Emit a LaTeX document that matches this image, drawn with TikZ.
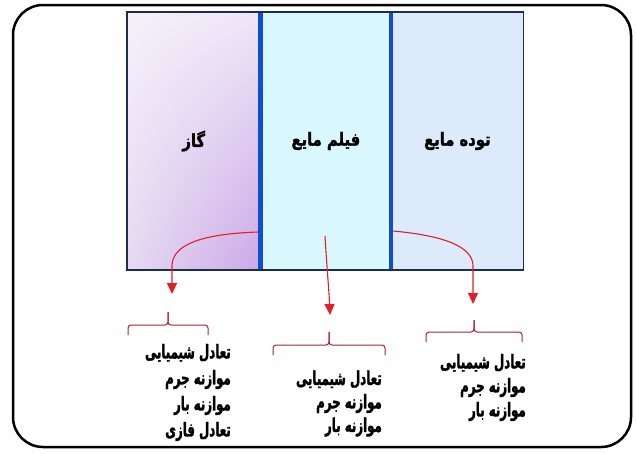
\documentclass[tikz,border=0pt]{standalone}
\usepackage{fontspec}
\usepackage{tikz}
\usetikzlibrary{arrows.meta,shadings}
\TeXXeTstate=1
\newfontfamily\arabicfont[Script=Arabic,FakeStretch=0.82,FakeBold=1.6]{DejaVu Sans}
\newfontfamily\arabicnarrow[Script=Arabic,FakeStretch=0.62,FakeBold=1.6]{DejaVu Sans}
\newcommand{\fatext}[1]{\beginR #1\endR}
\definecolor{gasA}{HTML}{F5F1FA}
\definecolor{gasB}{HTML}{EEE6F6}
\definecolor{gasC}{HTML}{E6DAF1}
\definecolor{gasD}{HTML}{CBA8E8}
\definecolor{filmfill}{HTML}{D9F8FD}
\definecolor{bulkfill}{HTML}{DDEAFC}
\definecolor{navy}{HTML}{1C2D4F}
\definecolor{sepblue}{HTML}{0F4FCF}
\definecolor{arrred}{HTML}{E41E26}
\definecolor{brred}{HTML}{A3252A}
\tikzset{
  zone/.style={minimum height=258pt,inner sep=0pt,font=\arabicfont\bfseries\fontsize{18}{20}\selectfont},
  sep/.style={line width=4.5pt,sepblue},
  flow/.style={-{Triangle[length=11pt,width=10pt]},line width=1.1pt,arrred},
  brk/.style={brred,line width=1pt,rounded corners=3pt},
  list/.style={align=right,inner sep=0pt,font=\arabicnarrow\bfseries\fontsize{19}{24}\selectfont},
}

\begin{document}
\begin{tikzpicture}[x=1pt,y=-1pt]
  \useasboundingbox (0,0) rectangle (636,453);
  \draw[line width=2.5pt,rounded corners=30pt] (13,5) rectangle (631,447);
  % three zones
  \node[zone,minimum width=133.5pt,upper left=gasA,upper right=gasB,lower left=gasC,lower right=gasD] (gas) at (193.75,141) {\fatext{گاز}};
  \node[zone,minimum width=130.8pt,fill=filmfill] (film) at (325.9,141) {\fatext{فیلم مایع}};
  \node[zone,minimum width=132.2pt,fill=bulkfill] (bulk) at (457.4,141) {\fatext{توده مایع}};
  \draw[sep] (gas.north east) -- (gas.south east);
  \draw[sep] (bulk.north west) -- (bulk.south west);
  \draw[navy,line width=1.5pt] (gas.north west) rectangle (bulk.south east);
  % arrows
  \coordinate (gasout) at (258,232);
  \coordinate (gastip) at (172,294);
  \coordinate (filmout) at (325,236);
  \coordinate (filmtip) at (330,315);
  \coordinate (bulkout) at (393,231);
  \coordinate (bulktip) at (473,304);
  \draw[flow] (gasout) .. controls (198,234) and (172,246) .. (172,266) -- (gastip);
  \draw[flow] (filmout) .. controls (327,270) and (329,290) .. (filmtip);
  \draw[flow] (bulkout) .. controls (448,236) and (473,248) .. (473,266) -- (bulktip);
  % brackets: left/right/top of line/tip
  \foreach \l/\r/\y/\t in {128/208/325/312,273/385/345/332,426/522/332/320}{
    \pgfmathsetmacro{\m}{(\l+\r)/2}
    \draw[brk] (\l,\y+10) -- (\l,\y) -- (\m,\y) -- (\m,\t);
    \draw[brk] (\m,\t) -- (\m,\y) -- (\r,\y) -- (\r,\y+10);
  }
  % lists
  \node[list,anchor=east,font=\arabicnarrow\bfseries\fontsize{19}{26}\selectfont] (gaslist) at (231,392.5) {\fatext{تعادل شیمیایی}\\\fatext{موازنه جرم}\\\fatext{موازنه بار}\\\fatext{تعادل فازی}};
  \node[list,anchor=east,font=\arabicnarrow\bfseries\fontsize{19}{23.5}\selectfont] (filmlist) at (382,403.5) {\fatext{تعادل شیمیایی}\\\fatext{موازنه جرم}\\\fatext{موازنه بار}};
  \node[list,anchor=east] (bulklist) at (526,387.5) {\fatext{تعادل شیمیایی}\\\fatext{موازنه جرم}\\\fatext{موازنه بار}};
\end{tikzpicture}
\end{document}
